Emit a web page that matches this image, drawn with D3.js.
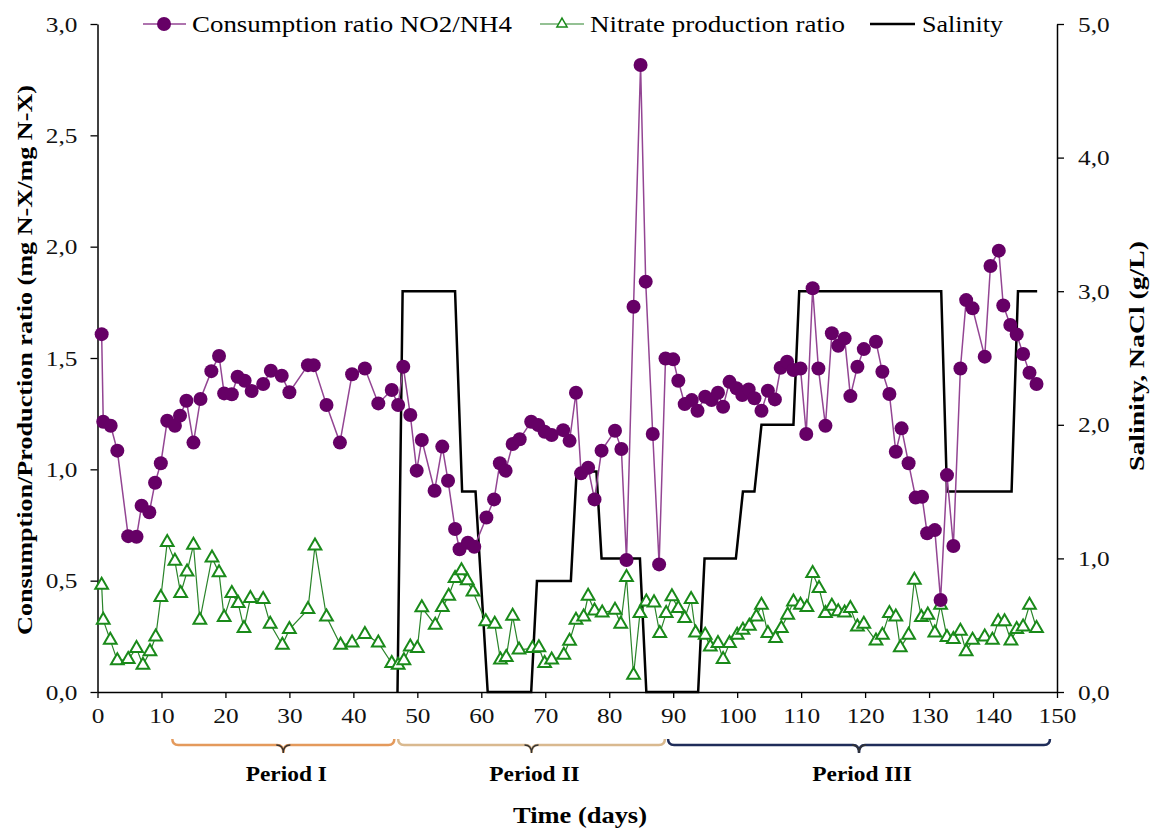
<!DOCTYPE html>
<html>
<head>
<meta charset="utf-8">
<script src="https://cdn.jsdelivr.net/npm/d3@7"></script>
<style>
  body { margin: 0; background: #fff; }
  text { font-family: "Liberation Serif", "Times New Roman", serif; }
</style>
</head>
<body>
<script>
// values
var ratioDays = [0.65,0.9,2.06,3.1,4.8,6.1,6.9,8.1,9.0,9.9,10.9,12.1,12.9,13.9,15,16.1,17.8,19,19.8,21,21.9,23,24.1,25.9,27.1,28.8,30,32.9,33.8,35.8,37.9,39.8,41.8,43.9,46,47,47.8,48.9,49.9,50.7,52.7,53.9,54.8,55.9,56.6,57.9,58.9,60.8,62,62.9,63.8,64.9,66,67.8,68.9,69.9,71,72.8,73.8,74.8,75.6,76.7,77.7,78.8,80.9,81.9,82.7,83.8,84.9,85.7,86.8,87.8,88.8,90,90.8,91.8,92.9,93.8,95,96,97,97.8,98.8,99.9,100.8,101.8,102.7,103.8,104.8,105.9,106.8,107.8,108.8,109.9,110.8,111.8,112.7,113.8,114.8,115.8,116.8,117.7,118.8,119.8,121.7,122.7,123.8,124.8,125.7,126.8,127.9,128.9,129.7,130.9,131.8,132.8,133.8,134.9,135.8,136.8,138.7,139.6,140.9,141.6,142.7,143.7,144.7,145.7,146.8];
var consumption = [1.607,1.214,1.196,1.084,0.70,0.697,0.837,0.807,0.94,1.027,1.218,1.196,1.241,1.308,1.12,1.316,1.441,1.509,1.341,1.337,1.416,1.398,1.352,1.383,1.443,1.42,1.346,1.468,1.468,1.289,1.12,1.427,1.453,1.296,1.356,1.289,1.461,1.244,0.994,1.132,0.904,1.102,0.949,0.732,0.641,0.67,0.652,0.784,0.865,1.027,0.994,1.114,1.135,1.214,1.199,1.169,1.154,1.176,1.128,1.344,0.982,1.007,0.865,1.084,1.173,1.091,0.593,1.73,2.816,1.843,1.159,0.573,1.498,1.494,1.398,1.293,1.311,1.263,1.326,1.311,1.344,1.281,1.393,1.364,1.334,1.359,1.319,1.263,1.353,1.314,1.456,1.483,1.446,1.453,1.159,1.813,1.453,1.196,1.611,1.555,1.588,1.329,1.461,1.54,1.573,1.438,1.338,1.079,1.184,1.027,0.873,0.877,0.713,0.727,0.413,0.974,0.656,1.453,1.76,1.723,1.506,1.913,1.982,1.736,1.648,1.606,1.518,1.434,1.383];

var nitrateDays = [0.65,0.9,2,3.1,4.8,6.1,7.1,8.2,9.1,9.9,10.9,12.1,13,14,15,16,17.9,19,19.8,21,22,22.9,23.9,25.9,27,28.9,30,32.9,34,35.8,38,39.8,41.8,43.9,46,47,47.9,48.9,50,50.7,52.8,53.9,54.9,55.9,56.9,57.8,58.7,60.7,62.1,63,63.9,64.9,65.9,68,69,69.9,71,72.9,73.8,74.8,76,76.7,77.7,78.9,80.9,81.8,82.7,83.8,84.8,85.8,87,87.9,88.9,89.8,90.8,91.8,92.8,93.5,95,95.8,97,97.8,98.8,100,100.9,101.9,103,103.8,104.8,106,106.9,107.9,108.8,109.9,110.9,111.8,112.8,113.8,114.8,115.8,116.8,117.7,118.8,119.8,121.7,122.7,123.8,124.8,125.5,126.8,127.7,128.8,129.8,130.9,131.8,132.8,133.8,134.9,135.8,136.8,138.7,139.9,140.8,141.8,142.8,143.7,144.7,145.7,146.8];
var nitrate = [0.48,0.323,0.233,0.141,0.147,0.196,0.121,0.181,0.248,0.425,0.672,0.588,0.443,0.54,0.66,0.323,0.603,0.536,0.335,0.443,0.398,0.286,0.421,0.416,0.305,0.211,0.281,0.371,0.656,0.338,0.211,0.221,0.259,0.221,0.129,0.121,0.141,0.203,0.196,0.379,0.301,0.38,0.431,0.511,0.545,0.5,0.45,0.316,0.305,0.144,0.156,0.341,0.189,0.196,0.2,0.129,0.144,0.166,0.229,0.323,0.338,0.431,0.365,0.356,0.368,0.305,0.515,0.076,0.353,0.405,0.401,0.263,0.353,0.428,0.376,0.331,0.416,0.266,0.256,0.203,0.219,0.147,0.219,0.256,0.278,0.296,0.338,0.39,0.263,0.241,0.286,0.346,0.405,0.39,0.38,0.533,0.466,0.353,0.386,0.361,0.356,0.376,0.293,0.305,0.23,0.256,0.353,0.338,0.199,0.256,0.503,0.335,0.346,0.266,0.39,0.246,0.237,0.274,0.181,0.233,0.248,0.233,0.316,0.316,0.23,0.281,0.293,0.39,0.286];

var salinityDays = [46.9,47.7,55.9,57,59.1,61,67.8,68.7,74,74.9,78,78.8,84.8,85.8,93.9,94.9,99.8,100.9,102.7,103.8,108.8,109.7,131.9,132.8,142.9,143.9,146.9];
var salinity = [0,3,3,1.5,1.5,0,0,0.83,0.83,1.65,1.65,1,1,0,0,1,1,1.5,1.5,2,2,3,3,1.5,1.5,3,3];

var xTicks = [0,10,20,30,40,50,60,70,80,90,100,110,120,130,140,150];
var leftTicks = [0,0.5,1,1.5,2,2.5,3];
var rightTicks = [0,1,2,3,4,5];

var periodNames = ["Period I","Period II","Period III"];
var periodStart = [11.7,47.0,89.2];
var periodEnd = [46.4,88.7,148.9];
var periodColors = ["#e49a5c","#d9b98f","#1f2d5a"];

var width = 1155, height = 830;
var margin = {left: 97.5, right: 98, top: 24, bottom: 138};
var wide = 1.15; // the reference text is drawn a bit wider than normal

var svg = d3.select("body").append("svg")
    .attr("width", width)
    .attr("height", height);

var x = d3.scaleLinear().domain([0, 150]).range([margin.left, width - margin.right]);
var y = d3.scaleLinear().domain([0, 3]).range([height - margin.bottom, margin.top]);
var y2 = d3.scaleLinear().domain([0, 5]).range([height - margin.bottom, margin.top]);

var fmt = function(d) { return d3.format(".1f")(d).replace(".", ","); };

function stretch(sel, k) {
  sel.each(function() {
    var len = this.getComputedTextLength();
    d3.select(this).attr("textLength", len * k).attr("lengthAdjust", "spacingAndGlyphs");
  });
}

// axes
var gx = svg.append("g")
    .attr("transform", "translate(0," + y(0) + ")")
    .call(d3.axisBottom(x).tickValues(xTicks).tickSize(6).tickSizeOuter(0).tickFormat(d3.format("d")));
var gl = svg.append("g")
    .attr("transform", "translate(" + x(0) + ",0)")
    .call(d3.axisLeft(y).tickValues(leftTicks).tickSize(7).tickSizeOuter(0).tickFormat(fmt));
var gr = svg.append("g")
    .attr("transform", "translate(" + x(150) + ",0)")
    .call(d3.axisRight(y2).tickValues(rightTicks).tickSize(7).tickSizeOuter(0).tickFormat(fmt));

[gx, gl, gr].forEach(function(g) {
  g.selectAll("path.domain").attr("stroke", "#000").attr("stroke-width", 1.5);
  g.selectAll(".tick line").attr("stroke", "#000").attr("stroke-width", 1.3);
  g.selectAll(".tick text")
    .style("font-family", "'Liberation Serif', serif")
    .style("font-size", "22px")
    .attr("fill", "#111");
  stretch(g.selectAll(".tick text"), wide);
});
gx.selectAll(".tick text").attr("y", 11).attr("dy", "0.9em");
gl.selectAll(".tick text").attr("x", -20);
gr.selectAll(".tick text").attr("x", 21);

// salinity (secondary axis)
var salLine = d3.line()
    .x(function(d, i) { return x(salinityDays[i]); })
    .y(function(d) { return y2(d); });
svg.append("path")
    .datum(salinity)
    .attr("d", salLine)
    .attr("fill", "none")
    .attr("stroke", "#000")
    .attr("stroke-width", 2.5);

// nitrate production ratio
var nitLine = d3.line()
    .x(function(d, i) { return x(nitrateDays[i]); })
    .y(function(d) { return y(d); });
svg.append("path")
    .datum(nitrate)
    .attr("d", nitLine)
    .attr("fill", "none")
    .attr("stroke", "#2a842a")
    .attr("stroke-width", 1.2);

var tri = d3.symbol().type(d3.symbolTriangle).size(70);
svg.selectAll("path.tri")
    .data(nitrate)
  .enter().append("path")
    .attr("class", "tri")
    .attr("d", tri)
    .attr("transform", function(d, i) { return "translate(" + x(nitrateDays[i]) + "," + y(d) + ")"; })
    .attr("fill", "#fff")
    .attr("stroke", "#1a8a1a")
    .attr("stroke-width", 2);

// consumption ratio
var conLine = d3.line()
    .x(function(d, i) { return x(ratioDays[i]); })
    .y(function(d) { return y(d); });
svg.append("path")
    .datum(consumption)
    .attr("d", conLine)
    .attr("fill", "none")
    .attr("stroke", "#934593")
    .attr("stroke-width", 1.5);

svg.selectAll("circle.con")
    .data(consumption)
  .enter().append("circle")
    .attr("class", "con")
    .attr("cx", function(d, i) { return x(ratioDays[i]); })
    .attr("cy", function(d) { return y(d); })
    .attr("r", 7)
    .attr("fill", "#660066");

// axis titles
svg.append("text")
    .attr("transform", "translate(24,360) rotate(-90)")
    .attr("text-anchor", "middle")
    .attr("dy", "0.35em")
    .attr("textLength", 550)
    .attr("lengthAdjust", "spacingAndGlyphs")
    .style("font-size", "22px")
    .style("font-weight", "bold")
    .text("Consumption/Production ratio (mg N-X/mg N-X)");

svg.append("text")
    .attr("transform", "translate(1137,356) rotate(-90)")
    .attr("text-anchor", "middle")
    .attr("dy", "0.35em")
    .attr("textLength", 230)
    .attr("lengthAdjust", "spacingAndGlyphs")
    .style("font-size", "21px")
    .style("font-weight", "bold")
    .text("Salinity, NaCl (g/L)");

var xTitle = svg.append("text")
    .attr("x", 580)
    .attr("y", 823)
    .attr("text-anchor", "middle")
    .style("font-size", "23px")
    .style("font-weight", "bold")
    .text("Time (days)");
stretch(xTitle, wide);

// period braces
var braceY = 745;
function brace(x1, x2) {
  var xm = (x1 + x2) / 2, c = 6;
  return "M" + x1 + "," + (braceY - c) +
    " Q" + x1 + "," + braceY + " " + (x1 + c) + "," + braceY +
    " L" + (xm - c) + "," + braceY +
    " Q" + xm + "," + braceY + " " + xm + "," + (braceY + c + 2) +
    " Q" + xm + "," + braceY + " " + (xm + c) + "," + braceY +
    " L" + (x2 - c) + "," + braceY +
    " Q" + x2 + "," + braceY + " " + x2 + "," + (braceY - c);
}
var periods = svg.selectAll("g.period")
    .data(periodNames)
  .enter().append("g")
    .attr("class", "period");
periods.append("path")
    .attr("d", function(d, i) { return brace(x(periodStart[i]), x(periodEnd[i])); })
    .attr("fill", "none")
    .attr("stroke", function(d, i) { return periodColors[i]; })
    .attr("stroke-width", 2.5);
periods.append("path")
    .attr("d", function(d, i) {
      var xm = (x(periodStart[i]) + x(periodEnd[i])) / 2;
      return "M" + (xm - 7) + "," + braceY + " Q" + xm + "," + braceY + " " + xm + "," + (braceY + 8) +
        " Q" + xm + "," + braceY + " " + (xm + 7) + "," + braceY;
    })
    .attr("fill", "none")
    .attr("stroke", "#333")
    .attr("stroke-width", 1.3);
var periodText = periods.append("text")
    .attr("x", function(d, i) { return (x(periodStart[i]) + x(periodEnd[i])) / 2 + 3; })
    .attr("y", 781)
    .attr("text-anchor", "middle")
    .style("font-size", "20px")
    .style("font-weight", "bold")
    .text(function(d) { return d; });
stretch(periodText, 1.17);

// legend
var legend = svg.append("g").attr("transform", "translate(0,24)");
legend.append("line").attr("x1", 143).attr("x2", 186).attr("y1", 0).attr("y2", 0)
    .attr("stroke", "#934593").attr("stroke-width", 1.5);
legend.append("circle").attr("cx", 164).attr("cy", 0).attr("r", 7).attr("fill", "#660066");
legend.append("text").attr("x", 192).attr("y", 0).attr("dy", "0.35em")
    .attr("textLength", 320).attr("lengthAdjust", "spacingAndGlyphs")
    .style("font-size", "23px").text("Consumption ratio NO2/NH4");

legend.append("line").attr("x1", 540).attr("x2", 584).attr("y1", 0).attr("y2", 0)
    .attr("stroke", "#2a842a").attr("stroke-width", 1.2);
legend.append("path").attr("d", d3.symbol().type(d3.symbolTriangle).size(45))
    .attr("transform", "translate(562,0)")
    .attr("fill", "#fff").attr("stroke", "#1a8a1a").attr("stroke-width", 1.5);
legend.append("text").attr("x", 590).attr("y", 0).attr("dy", "0.35em")
    .attr("textLength", 255).attr("lengthAdjust", "spacingAndGlyphs")
    .style("font-size", "23px").text("Nitrate production ratio");

legend.append("line").attr("x1", 870).attr("x2", 915).attr("y1", 0).attr("y2", 0)
    .attr("stroke", "#000").attr("stroke-width", 2.5);
legend.append("text").attr("x", 922).attr("y", 0).attr("dy", "0.35em")
    .attr("textLength", 81).attr("lengthAdjust", "spacingAndGlyphs")
    .style("font-size", "23px").text("Salinity");
</script>
</body>
</html>
